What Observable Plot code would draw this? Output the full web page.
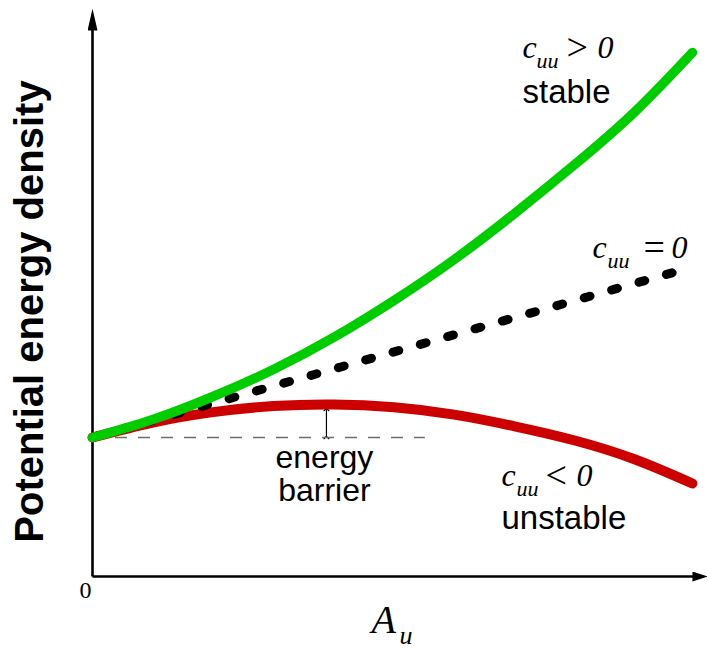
<!DOCTYPE html>
<html>
<head>
<meta charset="utf-8">
<script src="https://cdn.jsdelivr.net/npm/d3@7"></script>
<script src="https://cdn.jsdelivr.net/npm/@observablehq/plot@0.6"></script>
<style>
  html, body { margin: 0; padding: 0; background: #fff; }
  #chart svg { display: block; overflow: visible; }
</style>
</head>
<body>
<div id="chart"></div>
<script>
// ---- data (x: amplitude A_u, y: potential energy density) ----
const stableX   = [0, 1, 2, 3, 4, 5, 6, 7, 8, 9, 9.95];
const stableY   = [2.447, 2.764, 3.169, 3.644, 4.208, 4.859, 5.581, 6.391, 7.254, 8.187, 9.225];
const neutralX  = [0, 1, 2, 3, 4, 5, 6, 7, 8, 9, 9.75];
const neutralY  = [2.447, 2.748, 3.051, 3.352, 3.653, 3.954, 4.257, 4.558, 4.859, 5.162, 5.387];
const unstableX = [0, 1, 2, 3, 4, 5, 6, 7, 8, 9, 9.95];
const unstableY = [2.447, 2.710, 2.894, 3.000, 3.028, 2.979, 2.849, 2.644, 2.394, 2.060, 1.637];

const baseEnergy = 2.447;      // energy at A_u = 0
const baselineEnd = 5.52;      // extent of the dashed reference line
const barrierX = 3.88;         // position of the energy-barrier arrow
const barrierTop = 2.94;       // top of the energy-barrier arrow

const xAxisEnd = 10.05;
const yAxisEnd = 9.84;

const toRows = (xs, ys) => xs.map((x, i) => ({x, y: ys[i]}));
const stable = toRows(stableX, stableY);
const neutral = toRows(neutralX, neutralY);
const unstable = toRows(unstableX, unstableY);

const SERIF = "'Liberation Serif', 'Times New Roman', serif";
const SANS = "'Liberation Sans', Arial, sans-serif";

function label(text, x, y, opts = {}) {
  return Plot.text([text], {
    x, y, text: d => d,
    textAnchor: "start", lineAnchor: "bottom",
    fill: "black", fontFamily: SERIF, fontStyle: "italic", fontSize: 32,
    ...opts
  });
}
const op = {fontStyle: "normal", fontSize: 38};

const chart = Plot.plot({
  width: 708,
  height: 648,
  marginLeft: 92,
  marginRight: 1,
  marginTop: 8,
  marginBottom: 72,
  x: {axis: null, domain: [0, 10.2]},
  y: {axis: null, domain: [0, 10]},
  style: {background: "white", overflow: "visible"},
  marks: [
    // axes (arrowheads added below)
    Plot.link([0], {x1: 0, y1: 0, x2: xAxisEnd, y2: 0, stroke: "black", strokeWidth: 2.6}),
    Plot.link([0], {x1: 0, y1: 0, x2: 0, y2: yAxisEnd, stroke: "black", strokeWidth: 2.6}),
    // energy barrier arrow
    Plot.link([0], {x1: barrierX, y1: baseEnergy, x2: barrierX, y2: barrierTop,
      stroke: "black", strokeWidth: 1.2, markerStart: "arrow", markerEnd: "arrow"}),
    // dashed reference line
    Plot.ruleY([baseEnergy], {x1: 0, x2: baselineEnd, stroke: "#6e6e6e", strokeWidth: 1.5, strokeDasharray: "12,11"}),
    // curves
    Plot.line(unstable, {x: "x", y: "y", stroke: "#cc0000", strokeWidth: 10, curve: "natural"}),
    Plot.line(neutral, {x: "x", y: "y", stroke: "black", strokeWidth: 9, strokeDasharray: "6,22.4",
      strokeLinecap: "round", curve: "natural"}),
    Plot.line(stable, {x: "x", y: "y", stroke: "#00cc00", strokeWidth: 9.5, curve: "natural"}),

    // annotations: c_uu > 0 / stable
    label("c", 7.131, 9.137),
    label("uu", 7.363, 8.961, {fontSize: 22}),
    label(">", 7.860, 9.10, op),
    label("0", 8.375, 9.137),
    label("stable", 7.131, 8.345, {fontFamily: SANS, fontStyle: "normal", fontSize: 33}),

    // c_uu = 0
    label("c", 8.292, 5.616),
    label("uu", 8.541, 5.440, {fontSize: 22}),
    label("=", 9.138, 5.58, op),
    label("0", 9.602, 5.616),

    // c_uu < 0 / unstable
    label("c", 6.783, 1.602),
    label("uu", 7.032, 1.426, {fontSize: 22}),
    label("<", 7.512, 1.565, op),
    label("0", 8.027, 1.602),
    label("unstable", 6.783, 0.845, {fontFamily: SANS, fontStyle: "normal", fontSize: 33}),

    // energy barrier
    label("energy", 3.847, 1.919, {fontFamily: SANS, fontStyle: "normal", fontSize: 32, textAnchor: "middle"}),
    label("barrier", 3.847, 1.338, {fontFamily: SANS, fontStyle: "normal", fontSize: 32, textAnchor: "middle"}),

    // origin
    label("0", -0.115, -0.387, {fontStyle: "normal", fontSize: 24, textAnchor: "middle"}),

    // axis labels
    label("A", 4.627, -1.0035, {fontSize: 40}),
    label("u", 5.091, -1.18, {fontSize: 26}),
    label("Potential energy density", -0.815, 4.665, {fontFamily: SANS, fontStyle: "normal",
      fontWeight: "bold", fontSize: 40, textAnchor: "middle", rotate: -90})
  ]
});

// filled arrowheads for the axes
const svg = d3.select(chart);
const defs = svg.append("defs");
function head(id, len, w, back) {
  defs.append("marker")
    .attr("id", id)
    .attr("viewBox", `0 ${-w / 2} ${len} ${w}`)
    .attr("refX", back).attr("refY", 0)
    .attr("markerWidth", len).attr("markerHeight", w)
    .attr("markerUnits", "userSpaceOnUse")
    .attr("orient", "auto")
    .append("path")
    .attr("d", `M0,${-w / 2}L${len},0L0,${w / 2}Z`)
    .attr("fill", "black");
}
head("headX", 15, 10, 6);
head("headY", 22, 10, 13);
const links = svg.selectAll('g[aria-label="link"]').nodes();
d3.select(links[0]).selectAll("path").attr("marker-end", "url(#headX)");
d3.select(links[1]).selectAll("path").attr("marker-end", "url(#headY)");

document.getElementById("chart").appendChild(chart);
</script>
</body>
</html>
